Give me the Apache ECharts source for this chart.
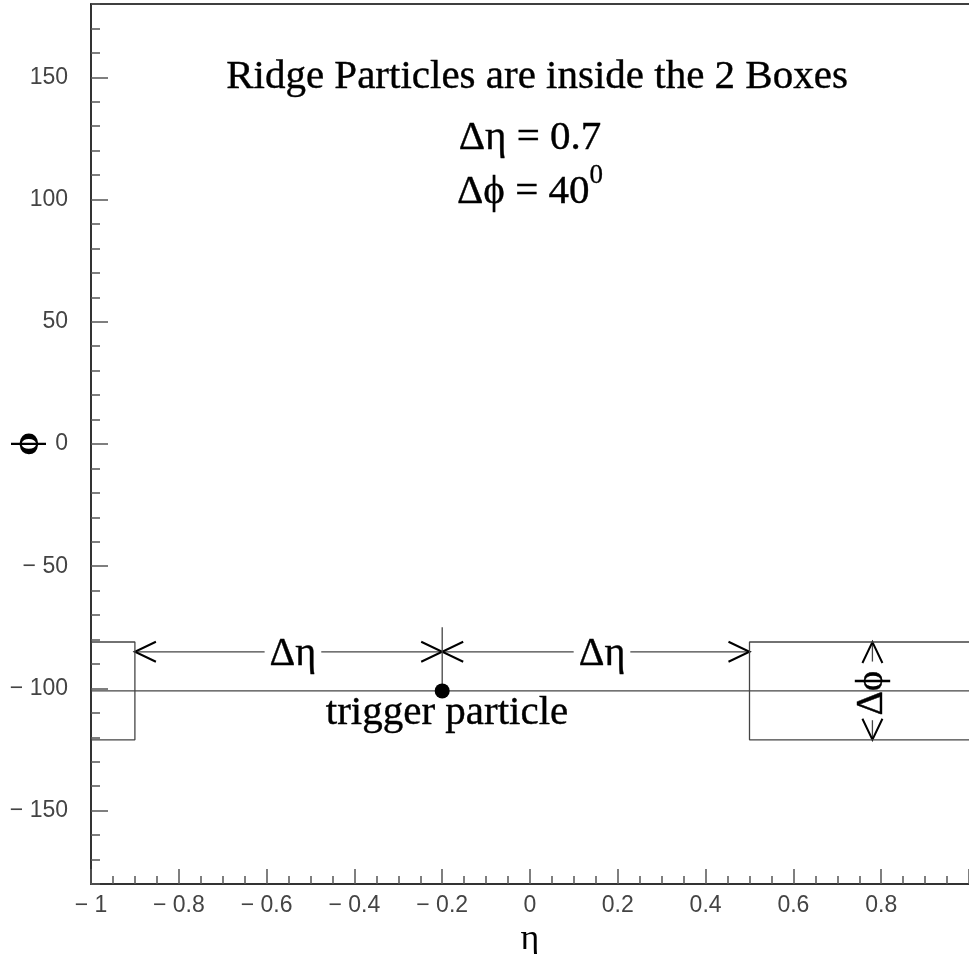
<!DOCTYPE html>
<html>
<head>
<meta charset="utf-8">
<title>Ridge particles</title>
<script src="https://cdn.jsdelivr.net/npm/echarts@6/dist/echarts.min.js"></script>
<style>
    html, body { margin: 0; padding: 0; background: #fff; }
    #ridgeChart { width: 969px; height: 954px; }
</style>
</head>
<body>
<div id="ridgeChart"></div>
<script>
    // data (eta, phi in degrees)
    var etaRange = [-1, 1];
    var phiRange = [-180, 180];
    var phiMajorTicks = [-150, -100, -50, 0, 50, 100, 150];
    var trigger = [-0.2, -101];
    var baseLine = [[-1, -101], [1, -101]];
    var triggerStem = [[-0.2, -75], [-0.2, -101]];
    var boxLeft = [[-1, -81], [-0.9, -81], [-0.9, -121], [-1, -121]];
    var boxRight = [[1, -81], [0.5, -81], [0.5, -121], [1, -121]];
    // arrow segments: from (x0,y0) to tip (x1,y1)
    var arrowSegments = [
        [-0.54, -85, -0.9, -85],
        [-0.54, -85, -0.2, -85],
        [0.164, -85, -0.2, -85],
        [0.164, -85, 0.5, -85],
        [0.78, -89, 0.78, -81],
        [0.78, -113, 0.78, -121]
    ];
    var noteText = ['Ridge Particles are inside the 2 Boxes', '{n|Δη = 0.7}', '{n|Δϕ = 40}{s|0}', 'trigger particle', 'Δη', 'Δη', 'Δϕ'];
    var noteX = [0.016, 0.0, 0.0, -0.189, -0.54, 0.164, 0.78];
    var noteY = [150, 127, 105, -110, -86, -86, -102];

    function fmtTick(v) {
        if (Math.abs(v) < 1e-9) return '0';
        var s = String(Math.round(Math.abs(v) * 100) / 100);
        return v < 0 ? '\u2212 ' + s : s;
    }

    function renderArrow(params, api) {
        var p0 = api.coord([api.value(0), api.value(1)]);
        var p1 = api.coord([api.value(2), api.value(3)]);
        var dx = p1[0] - p0[0], dy = p1[1] - p0[1];
        var len = Math.sqrt(dx * dx + dy * dy);
        var ux = dx / len, uy = dy / len;
        var hl = 21, hw = 10;
        var bx = p1[0] - ux * hl, by = p1[1] - uy * hl;
        return {
            type: 'group',
            children: [
                {type: 'line', shape: {x1: p0[0], y1: p0[1], x2: p1[0], y2: p1[1]}, style: {stroke: '#444', lineWidth: 1.3}},
                {type: 'polyline', shape: {points: [[bx - uy * hw, by + ux * hw], p1, [bx + uy * hw, by - ux * hw]]},
                    style: {stroke: '#000', lineWidth: 2, fill: null}}
            ]
        };
    }

    var noteStyles = [
        {fontSize: 41},
        {},
        {},
        {fontSize: 41},
        {fontSize: 40, backgroundColor: '#fff', padding: [0, 5]},
        {fontSize: 40, backgroundColor: '#fff', padding: [0, 5]},
        {fontSize: 38, rotate: 90}
    ];
    var noteData = noteText.map(function (t, i) {
        var lab = {
            show: true,
            position: 'inside',
            formatter: t,
            color: '#000',
            fontFamily: 'Liberation Serif',
            fontSize: 41,
            textBorderColor: '#000',
            textBorderWidth: 0.4,
            rich: {
                n: {fontFamily: 'Liberation Serif', fontSize: 41, color: '#000', textBorderColor: '#000', textBorderWidth: 0.4, lineHeight: 50, verticalAlign: 'bottom'},
                s: {fontFamily: 'Liberation Serif', fontSize: 27, color: '#000', textBorderColor: '#000', textBorderWidth: 0.3, lineHeight: 50, verticalAlign: 'top'}
            }
        };
        var st = noteStyles[i];
        for (var k in st) lab[k] = st[k];
        return {value: [noteX[i], noteY[i]], label: lab};
    });

    var lineStyle = {color: '#444', width: 1.3};
    var chart = echarts.init(document.getElementById('ridgeChart'));
    var option = {
        animation: false,
        grid: {left: 91, right: 0, top: 4, bottom: 70, containLabel: false, outerBoundsMode: 'none'},
        xAxis: [
            {
                type: 'value',
                min: etaRange[0],
                max: etaRange[1],
                interval: 0.2,
                name: 'η',
                nameLocation: 'middle',
                nameGap: 30,
                nameTextStyle: {fontFamily: 'Liberation Serif', fontSize: 36, color: '#000'},
                axisLine: {onZero: false, lineStyle: {color: '#333', width: 2}},
                axisTick: {inside: true, length: 15, lineStyle: {color: '#555', width: 1.5}},
                minorTick: {show: true, splitNumber: 4, length: 8, lineStyle: {color: '#555', width: 1.5}},
                axisLabel: {showMaxLabel: false, margin: 10, fontFamily: 'Liberation Sans', fontSize: 23, color: '#444', formatter: fmtTick},
                splitLine: {show: false}
            },
            {
                type: 'value',
                position: 'top',
                min: etaRange[0],
                max: etaRange[1],
                axisLine: {onZero: false, lineStyle: {color: '#000', width: 1.5}},
                axisTick: {show: false},
                axisLabel: {show: false},
                splitLine: {show: false}
            }
        ],
        yAxis: [
            {
                type: 'value',
                min: phiRange[0],
                max: phiRange[1],
                interval: 10,
                name: 'ϕ',
                nameLocation: 'middle',
                nameGap: 44,
                nameMoveOverlap: false,
                nameRotate: 90,
                nameTextStyle: {fontFamily: 'Liberation Serif', fontSize: 38, fontWeight: 'bold', color: '#000'},
                axisLine: {show: true, onZero: false, lineStyle: {color: '#333', width: 2}},
                axisTick: {inside: true, length: 9, lineStyle: {color: '#555', width: 1.5}},
                axisLabel: {
                    margin: 23, fontFamily: 'Liberation Sans', fontSize: 23, color: '#444',
                    formatter: function (v) { return v % 50 === 0 && Math.abs(v) < 180 ? fmtTick(v) : ''; }
                },
                splitLine: {show: false}
            },
            {
                type: 'value',
                position: 'left',
                offset: 0,
                min: phiRange[0],
                max: phiRange[1],
                axisLine: {show: false, onZero: false},
                axisTick: {show: true, inside: true, length: 17, customValues: phiMajorTicks, lineStyle: {color: '#555', width: 1.5}},
                axisLabel: {show: false},
                splitLine: {show: false}
            }
        ],
        series: [
            {type: 'line', data: baseLine, symbol: 'none', silent: true, lineStyle: lineStyle},
            {type: 'line', data: boxLeft, symbol: 'none', silent: true, lineStyle: lineStyle},
            {type: 'line', data: boxRight, symbol: 'none', silent: true, lineStyle: lineStyle},
            {type: 'line', data: triggerStem, symbol: 'none', silent: true, lineStyle: lineStyle},
            {type: 'custom', data: arrowSegments, renderItem: renderArrow, silent: true, z: 3},
            {type: 'scatter', data: [trigger], symbolSize: 15, itemStyle: {color: '#000', opacity: 1}, silent: true, z: 4},
            {type: 'scatter', data: noteData, symbolSize: 1, itemStyle: {color: 'rgba(0,0,0,0)', opacity: 1}, silent: true, z: 5}
        ]
    };
    chart.setOption(option);
</script>
</body>
</html>
